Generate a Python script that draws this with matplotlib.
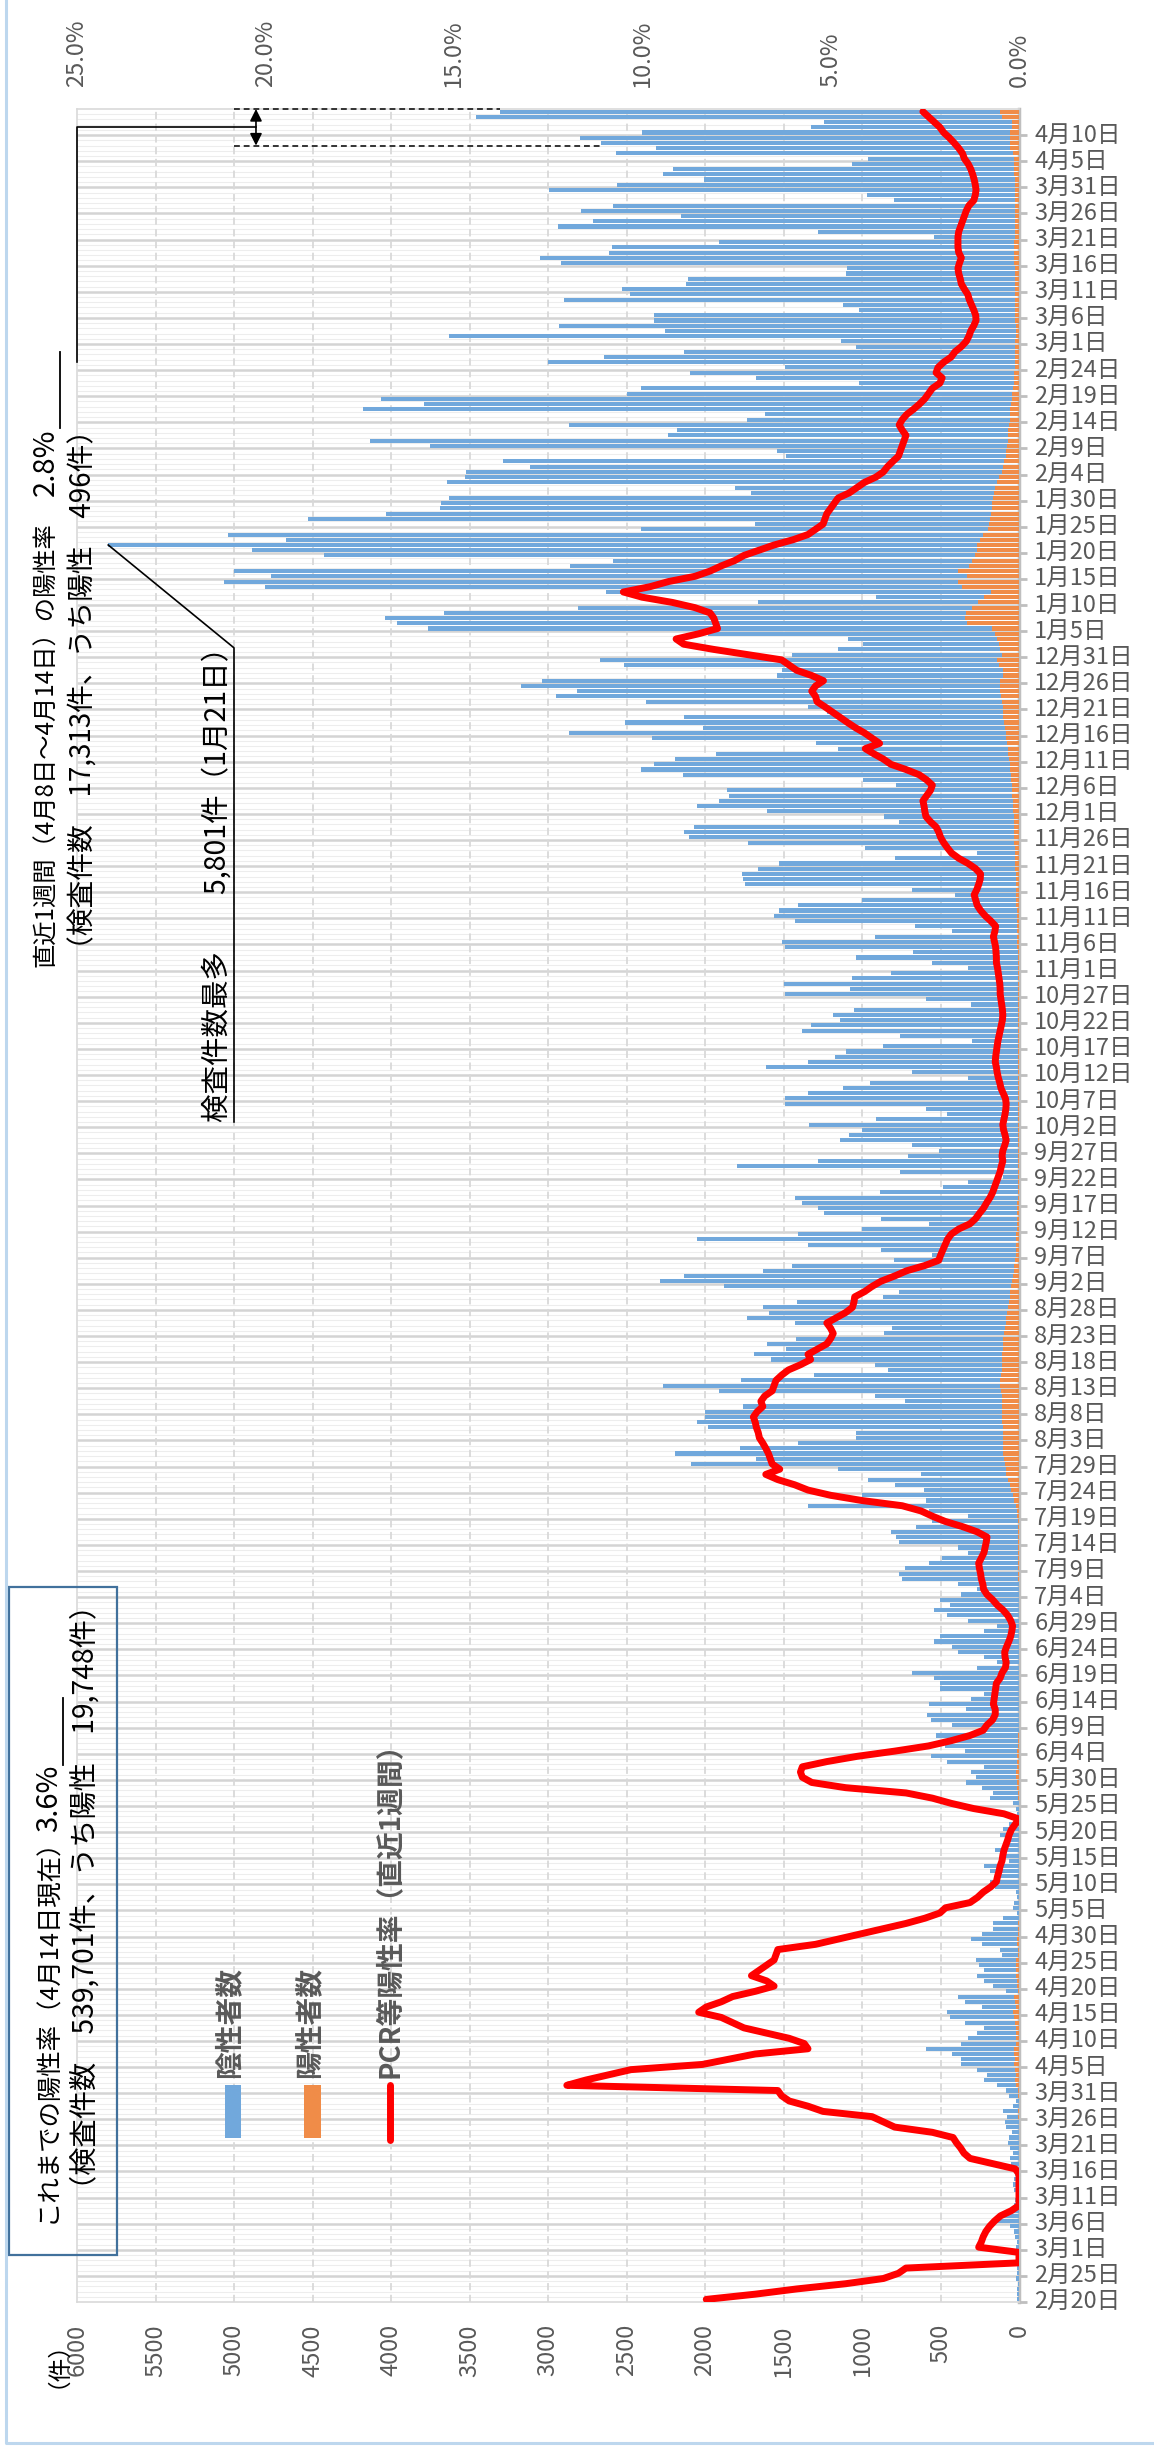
import numpy as np
import pandas as pd
import matplotlib
matplotlib.use("Agg")
import matplotlib.pyplot as plt
from matplotlib.patches import Rectangle
from matplotlib.lines import Line2D

plt.rcParams["font.family"] = ["Noto Sans CJK JP", "DejaVu Sans"]

# ---- data ----
start_date = "2020-02-20"

# daily number of tests (bar total), 2020-02-20 .. 2021-04-14
tests = [
    12, 10, 14, 8, 20, 15, 12, 9, 6, 15,
    20, 15, 25, 30, 60, 150, 120, 50, 30, 25,
    20, 35, 40, 30, 25, 45, 50, 60, 40, 55,
    70, 65, 45, 80, 90, 75, 100, 41, 20, 61,
    82, 143, 225, 204, 265, 367, 367, 429, 592, 367,
    327, 265, 225, 347, 437, 461, 237, 347, 388, 82,
    163, 225, 265, 225, 257, 273, 110, 122, 233, 306,
    233, 163, 163, 102, 10, 41, 29, 10, 20, 151,
    184, 122, 184, 225, 61, 102, 151, 61, 82, 122,
    102, 61, 10, 10, 20, 41, 184, 163, 233, 339,
    273, 306, 225, 457, 559, 347, 469, 449, 531, 245,
    429, 563, 584, 339, 571, 306, 225, 502, 502, 543,
    683, 265, 143, 225, 388, 429, 543, 502, 225, 143,
    327, 461, 543, 437, 502, 367, 265, 388, 747, 767,
    727, 571, 490, 327, 388, 767, 784, 816, 653, 551,
    327, 571, 1347, 592, 1000, 604, 788, 959, 625, 1155,
    2090, 1674, 2192, 1776, 1408, 1041, 1041, 1980, 2049, 2000,
    2000, 1755, 723, 918, 1910, 2266, 1768, 1306, 837, 918,
    1580, 1686, 1482, 1604, 1421, 857, 808, 1429, 1735, 1592,
    1633, 1416, 869, 767, 1878, 2286, 2131, 1633, 1449, 796,
    551, 878, 1347, 2049, 1408, 1000, 571, 878, 1245, 1278,
    1380, 1429, 886, 482, 327, 102, 755, 1796, 1278, 706,
    510, 682, 1143, 1082, 1000, 1339, 910, 457, 592, 1490,
    1490, 1347, 1123, 951, 327, 682, 1612, 1347, 1172, 1102,
    869, 298, 755, 1380, 1327, 1143, 1184, 1053, 306, 592,
    1490, 1074, 1498, 1061, 816, 327, 551, 1041, 674, 1490,
    1510, 918, 429, 665, 1429, 1559, 1531, 1408, 1000, 408,
    682, 1747, 1755, 1763, 1661, 1531, 788, 265, 980, 1727,
    2102, 2131, 2070, 763, 857, 1604, 2049, 1910, 1849, 1857,
    784, 992, 2143, 2408, 2327, 2192, 1927, 1155, 1290, 2339,
    2866, 2012, 2510, 2135, 1225, 1347, 2376, 2951, 2817, 3172,
    3041, 1539, 1510, 2519, 2666, 1449, 1155, 992, 1090, 1980,
    3764, 3960, 4041, 3662, 2812, 1665, 910, 2633, 4805, 5062,
    4764, 5000, 2857, 2584, 4429, 4886, 5801, 4666, 5041, 2408,
    1682, 4531, 4033, 3686, 3682, 3633, 1706, 1808, 3645, 3531,
    3523, 3115, 3286, 1482, 1543, 3751, 4131, 2233, 2176, 2866,
    1735, 1621, 4176, 3788, 4062, 2498, 2408, 1020, 1674, 2094,
    1490, 3000, 2645, 2135, 1041, 1131, 3633, 2253, 2927, 2323,
    2323, 1021, 1123, 2898, 2478, 2531, 2123, 2110, 1102, 1098,
    2919, 3053, 2612, 2592, 1914, 543, 1278, 2935, 2715, 2151,
    2788, 2584, 796, 967, 2992, 2559, 2008, 2266, 2204, 1061,
    959, 2568, 2315, 2661, 2796, 2400, 1327, 1245, 3461, 3306,
]

# daily positives (orange part of each bar)
positives = [
    1, 1, 1, 0, 1, 0, 1, 0, 0, 0,
    0, 0, 1, 0, 1, 1, 1, 0, 0, 0,
    0, 0, 0, 0, 0, 0, 1, 1, 1, 1,
    1, 1, 2, 3, 3, 4, 5, 3, 2, 4,
    5, 17, 26, 22, 27, 31, 28, 30, 33, 21,
    20, 18, 16, 26, 35, 39, 20, 27, 29, 6,
    11, 15, 19, 16, 17, 18, 7, 8, 13, 15,
    9, 6, 5, 3, 0, 1, 0, 0, 0, 1,
    1, 1, 1, 1, 0, 0, 1, 0, 0, 0,
    0, 0, 0, 0, 1, 2, 4, 8, 12, 15,
    16, 16, 15, 14, 12, 10, 7, 5, 4, 3,
    3, 3, 3, 3, 2, 2, 2, 2, 2, 2,
    2, 2, 1, 1, 1, 1, 1, 1, 1, 1,
    1, 1, 2, 2, 2, 3, 3, 3, 4, 4,
    5, 5, 5, 5, 5, 5, 6, 6, 7, 8,
    10, 15, 20, 30, 40, 50, 60, 70, 80, 85,
    90, 95, 100, 100, 100, 105, 105, 105, 110, 110,
    110, 110, 110, 110, 115, 120, 120, 115, 110, 110,
    110, 110, 105, 100, 100, 95, 90, 85, 80, 75,
    70, 65, 60, 55, 50, 45, 40, 35, 30, 25,
    20, 20, 19, 18, 17, 15, 14, 13, 12, 11,
    10, 9, 8, 7, 6, 6, 5, 5, 5, 4,
    4, 4, 4, 4, 4, 4, 4, 4, 4, 4,
    4, 4, 4, 5, 5, 5, 5, 5, 5, 5,
    5, 5, 5, 5, 5, 5, 5, 5, 5, 6,
    6, 6, 7, 7, 8, 8, 8, 9, 9, 10,
    10, 10, 10, 12, 12, 14, 15, 16, 18, 19,
    20, 20, 22, 22, 24, 25, 26, 27, 28, 29,
    30, 30, 32, 33, 35, 36, 38, 40, 42, 44,
    45, 48, 50, 55, 60, 65, 70, 72, 75, 80,
    85, 90, 95, 100, 100, 105, 110, 115, 118, 120,
    120, 100, 100, 130, 140, 110, 120, 130, 140, 150,
    170, 330, 347, 340, 300, 260, 220, 180, 360, 390,
    330, 388, 320, 300, 280, 265, 265, 250, 230, 200,
    190, 185, 180, 175, 170, 165, 160, 150, 140, 130,
    110, 100, 95, 85, 80, 75, 72, 70, 68, 65,
    60, 58, 55, 50, 45, 42, 40, 35, 32, 30,
    28, 27, 26, 25, 24, 23, 22, 22, 22, 24,
    24, 25, 25, 26, 26, 27, 28, 28, 28, 28,
    30, 30, 30, 30, 30, 28, 28, 28, 28, 28,
    28, 26, 26, 26, 28, 28, 28, 30, 30, 30,
    32, 40, 55, 55, 60, 60, 45, 46, 110, 120,
]

# PCR positive rate, last 7 days (%)
rate = [
    8.3, 7.0, 5.9, 4.6, 3.6, 3.2, 3.0, 0, 0, 0,
    1.07, 1.0, 0.95, 0.88, 0.78, 0.65, 0.49, 0.2, 0, 0,
    0, 0, 0, 0, 0, 0.1, 0.7, 1.3, 1.46, 1.55,
    1.66, 1.75, 2.3, 3.3, 3.6, 3.9, 5.2, 5.6, 6.1, 6.3,
    6.4, 12.0, 11.5, 10.9, 10.3, 8.4, 7.7, 7.0, 5.6, 5.7,
    6.1, 6.7, 7.3, 7.6, 7.9, 8.5, 8.3, 7.9, 7.6, 7.0,
    6.5, 6.7, 7.1, 6.9, 6.7, 6.5, 6.45, 6.4, 5.4, 4.8,
    4.2, 3.6, 3.0, 2.5, 2.1, 1.95, 1.3, 1.1, 0.95, 0.75,
    0.6, 0.57, 0.53, 0.5, 0.45, 0.43, 0.4, 0.35, 0.3, 0.26,
    0.2, 0.1, 0.0, 0.4, 1.2, 1.8, 2.3, 3.0, 4.6, 5.5,
    5.75, 5.8, 5.75, 5.1, 4.3, 3.3, 2.4, 1.8, 1.3, 0.95,
    0.85, 0.7, 0.63, 0.63, 0.68, 0.66, 0.64, 0.62, 0.6, 0.5,
    0.45, 0.36, 0.34, 0.37, 0.38, 0.33, 0.27, 0.22, 0.19, 0.17,
    0.22, 0.3, 0.42, 0.58, 0.7, 0.85, 0.94, 0.96, 1.0, 1.02,
    1.05, 1.07, 1.0, 0.93, 0.9, 0.87, 0.85, 1.11, 1.5, 1.96,
    2.3, 2.6, 3.1, 4.17, 5.0, 5.6, 5.95, 6.4, 6.72, 6.35,
    6.55, 6.6, 6.65, 6.72, 6.8, 6.89, 6.92, 6.97, 7.0, 7.05,
    6.95, 6.8, 6.85, 6.75, 6.55, 6.5, 6.45, 6.3, 6.12, 5.8,
    5.53, 5.6, 5.35, 5.1, 5.0, 4.93, 5.0, 5.1, 4.85, 4.6,
    4.42, 4.38, 4.36, 4.1, 3.9, 3.66, 3.3, 2.98, 2.5, 2.13,
    2.08, 2.02, 1.96, 1.9, 1.8, 1.6, 1.3, 1.15, 1.05, 0.94,
    0.86, 0.77, 0.7, 0.65, 0.6, 0.55, 0.5, 0.47, 0.43, 0.45,
    0.43, 0.38, 0.34, 0.37, 0.41, 0.43, 0.4, 0.37, 0.35, 0.34,
    0.36, 0.42, 0.48, 0.51, 0.55, 0.58, 0.6, 0.63, 0.62, 0.6,
    0.58, 0.56, 0.53, 0.5, 0.47, 0.44, 0.43, 0.44, 0.46, 0.48,
    0.5, 0.5, 0.51, 0.53, 0.55, 0.57, 0.6, 0.6, 0.61, 0.62,
    0.65, 0.68, 0.64, 0.62, 0.75, 0.9, 1.02, 1.11, 1.15, 1.19,
    1.12, 1.07, 1.03, 1.02, 1.15, 1.35, 1.6, 1.79, 1.9, 2.0,
    2.08, 2.13, 2.2, 2.35, 2.47, 2.5, 2.52, 2.55, 2.45, 2.35,
    2.3, 2.45, 2.65, 3.0, 3.4, 3.6, 3.85, 4.08, 3.7, 3.9,
    4.1, 4.34, 4.55, 4.75, 4.95, 5.15, 5.36, 5.4, 5.5, 5.4,
    5.19, 5.5, 5.9, 6.1, 6.3, 7.2, 8.1, 8.9, 9.1, 8.5,
    8.0, 8.05, 8.1, 8.2, 8.6, 9.2, 10.0, 10.5, 9.8, 9.3,
    8.6, 8.2, 7.9, 7.55, 7.3, 6.9, 6.5, 6.0, 5.6, 5.4,
    5.2, 5.15, 5.1, 5.0, 4.9, 4.8, 4.5, 4.3, 4.1, 3.8,
    3.6, 3.49, 3.35, 3.2, 3.15, 3.1, 3.05, 3.0, 3.1, 3.18,
    3.1, 2.98, 2.8, 2.64, 2.5, 2.4, 2.3, 2.1, 2.04, 2.2,
    2.15, 2.0, 1.8, 1.7, 1.53, 1.4, 1.33, 1.28, 1.2, 1.14,
    1.15, 1.2, 1.26, 1.32, 1.36, 1.45, 1.53, 1.56, 1.6, 1.62,
    1.58, 1.53, 1.6, 1.62, 1.62, 1.62, 1.6, 1.55, 1.5, 1.45,
    1.4, 1.33, 1.2, 1.16, 1.14, 1.16, 1.19, 1.23, 1.28, 1.35,
    1.45, 1.5, 1.6, 1.72, 1.85, 2.0, 2.1, 2.25, 2.4, 2.55,
]

value_ticks = list(range(0, 6001, 500))
rate_ticks = [0, 5, 10, 15, 20, 25]

assert len(tests) == len(positives) == len(rate) == 420

# ---- layout helpers (figure pixels) ----
W, H = 1154, 2458
GRAY = "#595959"
BLUE = "#71a8dc"
ORANGE = "#f08c48"


def fx(x):
    return x / W


def fy(y):
    return 1 - y / H


def vtext(x, y, s, size, va="bottom", **kw):
    # text reading bottom -> top; va="bottom" means it starts at pixel y
    fig.text(fx(x), fy(y), s, rotation=90, ha="center", va=va,
             fontsize=size, **kw)


def fig_line(xs, ys, **kw):
    fig.add_artist(Line2D([fx(x) for x in xs], [fy(y) for y in ys], **kw))


n = len(tests)
days = np.arange(n)
dates = pd.date_range(start_date, periods=n)
tot = np.array(tests)
pos = np.array(positives)
neg = tot - pos

fig = plt.figure(figsize=(W / 100, H / 100), dpi=100)
ax = fig.add_axes([fx(77), fy(2302), (1019 - 77) / W, (2302 - 109) / H])
ax.set_xlim(6000, 0)
ax.set_ylim(-0.5, n - 0.5)

# grid
ax.hlines(np.arange(0.5, n - 1, 1), 0, 6000, colors="#ededed", lw=0.8, zorder=0)
ax.hlines(np.arange(4.5, n - 1, 5), 0, 6000, colors="#d4d4d4", lw=1.8, zorder=1)
ax.vlines(value_ticks[1:-1], -0.5, n - 0.5, colors="#d9d9d9", lw=1.3,
          linestyles=(0, (4, 2.5)), zorder=1)

# bars
ax.barh(days, pos, height=0.78, color=ORANGE, zorder=3)
ax.barh(days, neg, left=pos, height=0.78, color=BLUE, zorder=3)

# y axis (dates) on the right
ax.yaxis.tick_right()
ax.set_yticks(np.arange(-0.5, n - 1, 5))
ax.set_yticklabels([])
ax.set_yticks(days[::5], minor=True)
ax.set_yticklabels([f"{d.month}月{d.day}日" for d in dates[::5]], minor=True)
ax.tick_params(axis="y", which="major", length=6, width=2, color="#bfbfbf",
               direction="out")
ax.tick_params(axis="y", which="minor", length=0, pad=11, labelsize=17,
               labelcolor=GRAY)

# x axis (count) at the bottom
ax.set_xticks(value_ticks)
ax.set_xticklabels([str(v) for v in value_ticks], rotation=90)
ax.tick_params(axis="x", length=0, pad=16, labelsize=17, labelcolor=GRAY)

for side in ["left", "top", "bottom"]:
    ax.spines[side].set_color("#d9d9d9")
    ax.spines[side].set_linewidth(1.2)
ax.spines["right"].set_color("#bfbfbf")
ax.spines["right"].set_linewidth(2.5)

# positive rate line on a second x axis (top)
ax2 = ax.twiny()
ax2.set_xlim(25, 0)
ax2.plot(rate, days, color="#ff0000", lw=5, solid_joinstyle="round",
         solid_capstyle="round", zorder=5)
ax2.set_xticks(rate_ticks)
ax2.set_xticklabels([f"{t:.1f}%" for t in rate_ticks], rotation=90)
ax2.tick_params(axis="x", length=0, pad=16, labelsize=17, labelcolor=GRAY)
for s in ax2.spines.values():
    s.set_visible(False)

# last week marker (4/8 - 4/14)
wk0, wk1 = days[-7] - 0.5, days[-1] + 0.5
ax.plot([5000, tests[-1]], [wk1, wk1], color="#333333", lw=1.4,
        ls=(0, (3, 2)), zorder=6, clip_on=False)
ax.plot([5000, tests[-7]], [wk0, wk0], color="#333333", lw=1.4,
        ls=(0, (3, 2)), zorder=6, clip_on=False)
ax.annotate("", xy=(4860, wk1), xytext=(4860, wk0),
            arrowprops=dict(arrowstyle="<|-|>", color="black", lw=1.2,
                            mutation_scale=18, shrinkA=0, shrinkB=0),
            zorder=7)
ymid = (wk0 + wk1) / 2
ax.plot([4860, 6000, 6000], [ymid, ymid, 371], color="black", lw=1.2,
        zorder=7, clip_on=False)

# most tests marker
imax = int(np.argmax(tot))
ax.plot([tot[imax], 5000, 5000], [imax, 316.3, 225.5], color="black", lw=1.2,
        zorder=7, clip_on=False)

# ---- annotations ----
vtext(46, 967, "直近1週間（4月8日～4月14日）の陽性率", 17.5, color="black")
vtext(46, 428, "2.8%", 21, va="top", color="black")
fig_line([60, 60], [352, 428], color="black", lw=1.3)
vtext(84, 963, "（検査件数　17,313件、うち陽性　496件）", 20, color="black")

vtext(218, 1122, "検査件数最多　　5,801件（1月21日）", 20.5, color="black")

# summary box
fig.add_artist(Rectangle((fx(9), fy(2255)), (117 - 9) / W, (2255 - 1587) / H,
                         transform=fig.transFigure, facecolor="none",
                         edgecolor="#41719c", lw=1.6))
vtext(48, 2223, "これまでの陽性率（4月14日現在）", 18.3, color="black")
vtext(49, 1765, "3.6%", 21, va="top", color="black")
fig_line([63, 63], [1698, 1765], color="black", lw=1.3)
vtext(86, 2203, "（検査件数　539,701件、うち陽性　19,748件）", 20.3, color="black")

# legend
vtext(229, 2078, "陰性者数", 20, color=GRAY, fontweight="bold")
vtext(309, 2078, "陽性者数", 20, color=GRAY, fontweight="bold")
vtext(390, 2078, "PCR等陽性率（直近1週間）", 20, color=GRAY, fontweight="bold")
fig.add_artist(Rectangle((fx(225), fy(2138)), 16 / W, 53 / H,
                         transform=fig.transFigure, facecolor=BLUE,
                         edgecolor="none"))
fig.add_artist(Rectangle((fx(304), fy(2138)), 17 / W, 53 / H,
                         transform=fig.transFigure, facecolor=ORANGE,
                         edgecolor="none"))
fig_line([390, 390], [2085, 2140], color="#ff0000", lw=5,
         solid_capstyle="round")

# unit label
fig.text(fx(46), fy(2353), "（件）", rotation=90, ha="center", va="center",
         fontsize=17, color="black")

# outer frame
fig_line([6, 6, W], [0, 2443, 2443], color="#bdd7ee", lw=2.2)

fig.savefig("out.png", dpi=100)
